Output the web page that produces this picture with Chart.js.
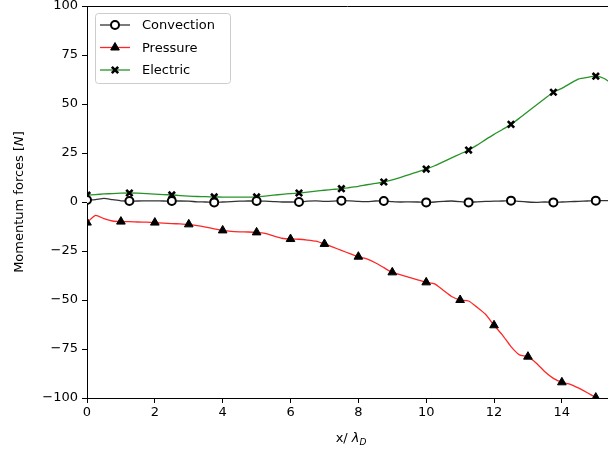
<!DOCTYPE html>
<html lang="en">
<head>
<meta charset="UTF-8">
<title>Momentum forces</title>
<script src="https://cdn.jsdelivr.net/npm/chart.js"></script>
<style>
  html, body { margin: 0; padding: 0; background: #fff; overflow: hidden; }
  #wrap { width: 608px; height: 453px; }
</style>
</head>
<body>
<div id="wrap"><canvas id="myChart" width="608" height="453"></canvas></div>
<script>
  // x positions in units of Debye length
  var xPos = [0,0.25,0.5,0.75,1,1.25,1.5,1.75,2,2.25,2.5,2.75,3,3.25,3.5,3.75,4,4.25,4.5,4.75,
    5,5.25,5.5,5.75,6,6.25,6.5,6.75,7,7.25,7.5,7.75,8,8.25,8.5,8.75,9,9.25,9.5,9.75,
    10,10.25,10.5,10.75,11,11.25,11.5,11.75,12,12.25,12.5,12.75,13,13.25,13.5,13.75,
    14,14.25,14.5,14.75,15,15.25,15.5]

  var convection = [1.0,1.2,1.8,1.2,0.6,0.5,0.5,0.6,0.6,0.5,0.5,0.5,0.4,0.1,0,-0.2,0,0.2,0.4,0.5,
    0.5,0.4,0.2,0,0,0,0.4,0.6,0.3,0.4,0.7,0.6,0.3,0.2,0.5,0.5,0.2,0,0.1,0,
    -0.2,0,0.3,0.5,0.2,-0.2,0.1,0.3,0.4,0.5,0.7,0.3,0,-0.2,0,-0.2,
    0,0.2,0.3,0.5,0.7,0.7,0.7]

  var pressure = [-10.5,-6.8,-8.5,-9.7,-10,-10,-10.2,-10.3,-10.5,-10.8,-11,-11.2,-11.4,-12,-12.8,-13.7,-14.5,-15,-15.2,-15.3,
    -15.5,-16,-17.3,-18.5,-18.9,-19,-19.4,-20,-21.4,-23,-24.7,-26.3,-27.9,-29,-31,-33.5,-35.9,-37.2,-38.4,-39.7,
    -41,-41.8,-45,-48.2,-50,-50.5,-53.7,-57.3,-62.9,-67.9,-73.8,-78,-78.9,-82.3,-86.6,-90,
    -92,-93,-95,-97.3,-99.8,-102,-104]

  var electric = [3.5,3.8,4.1,4.3,4.5,4.6,4.5,4.3,4.0,3.8,3.6,3.3,3.0,2.8,2.7,2.6,2.5,2.5,2.5,2.5,
    2.6,3.0,3.5,3.9,4.3,4.6,5.0,5.5,6.0,6.4,6.8,7.4,8.0,8.8,9.5,10.2,11.3,12.6,14.0,15.4,
    16.8,18.5,20.5,22.5,24.5,26.5,29,31.8,34.5,37,39.6,42.8,46.2,49.5,52.8,56,
    58,60.5,62.8,63.6,64.2,63,60]

  var yTicks = [-100,-75,-50,-25,0,25,50,75,100]
  var xTicks = [0,2,4,6,8,10,12,14]

  var fontFam = "'DejaVu Sans', sans-serif"

  function pts(vals) {
    return vals.map(function (v, i) { return { x: xPos[i], y: v } })
  }
  // markers every 1.25 (every 5th sample) or every 1 (every 4th sample)
  function every(n, r) {
    return function (c) { return c.dataIndex % n === 0 ? r : 0 }
  }

  var chartData = {
    datasets: [{
      label: 'Convection',
      data: pts(convection),
      borderColor: 'rgba(0,0,0,0.8)',
      borderWidth: 1.3,
      pointStyle: 'circle',
      pointRadius: every(5, 4),
      pointBorderWidth: 2,
      pointBorderColor: '#000',
      pointBackgroundColor: '#fff'
    }, {
      label: 'Pressure',
      data: pts(pressure),
      borderColor: 'rgba(255,0,0,0.85)',
      borderWidth: 1.3,
      pointStyle: 'triangle',
      pointRadius: every(4, 5),
      pointBorderWidth: 1,
      pointBorderColor: '#000',
      pointBackgroundColor: '#000'
    }, {
      label: 'Electric',
      data: pts(electric),
      borderColor: 'rgba(0,128,0,0.85)',
      borderWidth: 1.3,
      pointStyle: 'crossRot',
      pointRadius: every(5, 4.5),
      pointBorderWidth: 2.6,
      pointBorderColor: '#000',
      pointBackgroundColor: '#000'
    }]
  }

  // top frame line, axis titles and the matplotlib-like legend box
  var extras = {
    id: 'extras',
    afterDraw: function (chart) {
      var c = chart.ctx, a = chart.chartArea
      c.save()
      c.strokeStyle = '#000'
      c.lineWidth = 1
      c.beginPath()
      c.moveTo(a.left, a.top + 0.5)
      c.lineTo(a.right, a.top + 0.5)
      c.stroke()

      // x title: x/ λ_D
      c.fillStyle = '#000'
      c.textBaseline = 'alphabetic'
      c.textAlign = 'left'
      var xs = chart.scales.x
      var cx = (a.left + xs.getPixelForValue(15.57)) / 2
      c.font = '13px ' + fontFam
      var w1 = c.measureText('x/ ').width
      c.font = 'italic 13px ' + fontFam
      var w2 = c.measureText('λ').width
      c.font = 'italic 9px ' + fontFam
      var w3 = c.measureText('D').width
      var sx = cx - (w1 + w2 + w3) / 2, by = 442
      c.font = '13px ' + fontFam
      c.fillText('x/ ', sx, by)
      c.font = 'italic 13px ' + fontFam
      c.fillText('λ', sx + w1, by)
      c.font = 'italic 9px ' + fontFam
      c.fillText('D', sx + w1 + w2, by + 3)

      // y title: Momentum forces [N]
      c.translate(23, (a.top + a.bottom) / 2)
      c.rotate(-Math.PI / 2)
      c.font = '13px ' + fontFam
      var p1 = 'Momentum forces [', p3 = ']'
      var q1 = c.measureText(p1).width, q3 = c.measureText(p3).width
      c.font = 'italic 13px ' + fontFam
      var q2 = c.measureText('N').width
      var ty = -(q1 + q2 + q3) / 2
      c.font = '13px ' + fontFam
      c.fillText(p1, ty, 0)
      c.font = 'italic 13px ' + fontFam
      c.fillText('N', ty + q1, 0)
      c.font = '13px ' + fontFam
      c.fillText(p3, ty + q1 + q2, 0)
      c.restore()

      // legend
      c.save()
      var lx = 95, ly = 13, lw = 135, lh = 70
      c.fillStyle = 'rgba(255,255,255,0.8)'
      c.strokeStyle = '#cccccc'
      c.lineWidth = 1
      c.beginPath()
      c.roundRect(lx + 0.5, ly + 0.5, lw, lh, 3)
      c.fill()
      c.stroke()
      c.font = '13px ' + fontFam
      c.textBaseline = 'middle'
      chart.data.datasets.forEach(function (ds, i) {
        var yy = 25 + i * 22.5
        c.strokeStyle = ds.borderColor
        c.lineWidth = ds.borderWidth
        c.beginPath()
        c.moveTo(100, yy)
        c.lineTo(130, yy)
        c.stroke()
        c.fillStyle = ds.pointBackgroundColor
        c.strokeStyle = ds.pointBorderColor
        c.lineWidth = ds.pointBorderWidth
        Chart.helpers.drawPoint(c, { pointStyle: ds.pointStyle, radius: i === 1 ? 5 : (i === 0 ? 4 : 4.5), rotation: 0, borderWidth: ds.pointBorderWidth }, 115, yy)
        c.fillStyle = '#000'
        c.fillText(ds.label, 142, yy + 1)
      })
      c.restore()
    }
  }

  var ctx = document.getElementById('myChart')
  new Chart(ctx, {
    type: 'line',
    data: chartData,
    options: {
      responsive: false,
      animation: false,
      layout: { autoPadding: false, padding: { top: 6, left: 0, right: 0, bottom: 0 } },
      elements: { line: { tension: 0.2, fill: false } },
      plugins: { legend: { display: false }, tooltip: { enabled: false } },
      datasets: { line: { clip: 0 } },
      scales: {
        x: {
          type: 'linear',
          min: 0,
          max: 15.36,
          afterBuildTicks: function (s) { s.ticks = xTicks.map(function (v) { return { value: v } }) },
          afterFit: function (s) { s.height = 55; s.paddingLeft = 0; s.paddingRight = 0 },
          ticks: { color: '#000', font: { family: fontFam, size: 13 }, padding: 2, maxRotation: 0 },
          grid: { drawOnChartArea: false, tickLength: 5, tickColor: '#000', tickWidth: 1 },
          border: { color: '#000', width: 1 }
        },
        y: {
          min: -100,
          max: 100,
          afterBuildTicks: function (s) { s.ticks = yTicks.map(function (v) { return { value: v } }) },
          afterFit: function (s) { s.width = 87; s.paddingTop = 0; s.paddingBottom = 0 },
          ticks: {
            color: '#000',
            font: { family: fontFam, size: 13 },
            padding: 4,
            callback: function (v) { return String(v).replace('-', '\u2212') }
          },
          grid: { drawOnChartArea: false, tickLength: 5, tickColor: '#000', tickWidth: 1 },
          border: { color: '#000', width: 1 }
        }
      }
    },
    plugins: [extras]
  })
</script>
</body>
</html>
